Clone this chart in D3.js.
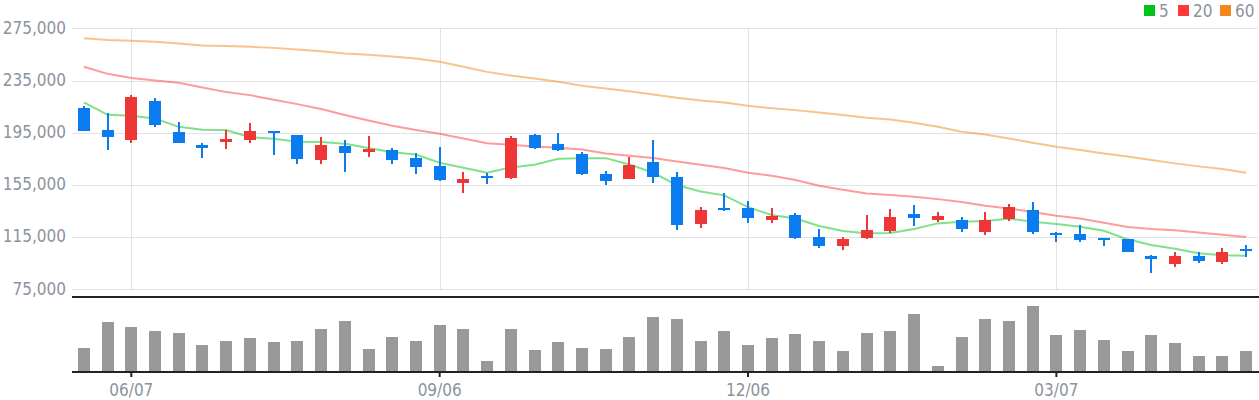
<!DOCTYPE html>
<html>
<head>
<meta charset="utf-8">
<script src="https://cdn.jsdelivr.net/npm/d3@7/dist/d3.min.js"></script>
<style>
  html, body { margin: 0; padding: 0; background: #fff; }
  svg { display: block; font-family: "DejaVu Sans Condensed", "DejaVu Sans", Verdana, sans-serif; }
</style>
</head>
<body>
<svg id="chart" width="1259" height="400"></svg>
<script>
// ---- data ----
const dates = ["05/24","05/31","06/07","06/14","06/21","06/28","07/05","07/12","07/19","07/26",
  "08/02","08/09","08/16","08/23","08/30","09/06","09/13","09/20","09/27","10/04",
  "10/11","10/18","10/25","11/01","11/08","11/15","11/22","11/29","12/06","12/13",
  "12/20","12/27","01/03","01/10","01/17","01/24","01/31","02/07","02/14","02/21",
  "02/28","03/07","03/14","03/21","03/28","04/04","04/11","04/18","04/25","05/02"];
const openP  = [213800,197000,189600,219200,195400,185500,188000,189600,196200,193100,
  174300,184700,180400,181700,175500,169400,156700,161800,160500,193100,
  186300,178600,163300,159700,172500,161000,125300,137300,137300,128300,
  131900,115100,108400,114500,119900,132700,128300,128100,119100,129100,
  135700,118400,117600,114500,113500,100500,94600,100500,96200,105900];
const highP  = [215400,210000,223800,221500,203100,187000,197000,202300,196200,193100,
  191600,189300,192400,183200,179400,184000,164800,164300,192400,193900,
  194700,180100,165600,176300,189300,164800,138000,148700,142600,137300,
  133400,121200,115100,131900,136500,139600,134200,130400,134200,140300,
  141900,119100,124200,114500,113500,101300,103600,103600,106600,108900];
const lowP   = [196500,181700,187300,199500,187300,175800,182700,187300,177800,171200,
  171200,165100,176600,171200,163500,158200,149000,155900,159700,182700,
  180900,162800,155100,159700,156700,120700,122200,135000,126000,126000,
  113800,106900,105400,113800,118400,123700,126800,119100,116800,127600,
  117600,111500,111500,108400,103800,87800,92300,95400,94600,100000];
const closeP = [196500,191600,222200,201100,187300,183500,190100,196200,194900,175000,
  185500,179600,182400,174300,168900,159000,159500,160500,190900,183500,
  181700,163500,158200,170200,161200,124500,135700,135700,129900,131400,
  114500,108400,113500,120400,130400,129900,131100,121400,128100,138000,
  119100,116800,113000,113000,103800,98500,100500,96900,103600,104300];
const ma5  = [218200,208700,207900,205900,199500,197200,197000,191600,190300,188000,
  187800,186500,183200,180100,178300,172000,168100,164300,168400,170400,
  175000,175500,175500,170700,164300,154900,150000,147000,138000,131900,
  129300,123500,119700,117900,118100,121200,125500,126800,127300,129100,
  126800,125000,123000,119900,113300,108900,106100,102600,101000,100800];
const ma20 = [245500,240100,237000,235000,233200,229600,226100,223800,220200,216900,
  213100,208500,204400,200300,197000,194200,190600,187000,185700,184500,
  183500,182200,179100,177300,175700,173000,170400,167900,164300,162000,
  158700,154400,151300,148500,147200,145900,144100,141900,139000,137000,
  134200,131400,129300,126000,122700,121200,120200,118600,116800,115100];
const ma60 = [267400,266100,265400,264600,263300,261800,261500,260800,260000,258700,
  257500,255700,254700,253400,251800,249300,245500,241600,238800,236500,
  234000,230900,228900,226800,224300,221700,219700,218200,215600,213800,
  212300,210500,208500,206400,205100,202600,199500,195700,193700,190600,
  187300,184200,181700,179100,176800,174000,171500,169200,167100,164300];
const volume = [70,148,133,121,115,79,91,100,88,91,
  127,151,67,103,91,139,127,31,127,64,
  88,70,67,103,163,157,91,121,79,100,
  112,91,61,115,121,172,16,103,157,151,
  196,109,124,94,61,109,85,46,46,61];
const yTicks = [75000,115000,155000,195000,235000,275000];
const xTickLabels = ["06/07","09/06","12/06","03/07"];
const maNames = ["5","20","60"];
const maColors = ["#00c317","#ff3838","#f4871a"];

// ---- layout ----
const svg = d3.select("#chart");
const FONT = "'DejaVu Sans Condensed', 'DejaVu Sans', Verdana, sans-serif";
const left = 72, right = 1258;
const priceTop = 28.3, priceBottom = 289.3;
const volTop = 297, volBottom = 372;
const upColor = "#ef3636", downColor = "#0b7cf0";
const textColor = "#8b939e";

const idx = d3.range(dates.length);
const x = d3.scaleBand().domain(idx).range([left, right]).padding(0);
const cx = i => x(i) + x.bandwidth() / 2;
const y = d3.scaleLinear().domain([75000, 275000]).range([priceBottom, priceTop]);
const yv = d3.scaleLinear().domain([0, 223]).range([volBottom - 1, volTop]);

// grid lines
const grid = svg.append("g");
grid.selectAll("line.h").data(yTicks).join("line")
  .attr("x1", left).attr("x2", right)
  .attr("y1", d => Math.round(y(d)) + 0.5).attr("y2", d => Math.round(y(d)) + 0.5)
  .attr("stroke", "#e1e2e6").attr("stroke-width", 1);
const tickIdx = xTickLabels.map(l => dates.indexOf(l));
grid.selectAll("line.v").data(tickIdx).join("line")
  .attr("x1", d => Math.round(cx(d)) + 0.5).attr("x2", d => Math.round(cx(d)) + 0.5)
  .attr("y1", priceTop).attr("y2", priceBottom)
  .attr("stroke", "#e1e2e6").attr("stroke-width", 1);

// y axis labels
const yAxis = d3.axisLeft(y).tickValues(yTicks).tickFormat(d3.format(",")).tickSize(0).tickPadding(6);
const gy = svg.append("g").attr("transform", `translate(${left},0)`).call(yAxis);
gy.select(".domain").remove();
gy.selectAll("text").attr("fill", textColor).attr("dy", 0).attr("y", 4.7)
  .style("font-size", "17px").style("font-family", FONT);

// MA lines
const maData = [ma5, ma20, ma60];
const line = d3.line().x((d, i) => cx(i)).y(d => y(d));
maData.forEach((arr, k) => {
  svg.append("path").datum(arr)
    .attr("d", line).attr("fill", "none")
    .attr("stroke", maColors[k]).attr("stroke-opacity", 0.5).attr("stroke-width", 2);
});

// candles
const candles = svg.append("g");
const bw = 12;
idx.forEach(i => {
  const o = openP[i], c = closeP[i], h = highP[i], l = lowP[i];
  const col = c >= o ? upColor : downColor;
  const xc = Math.round(cx(i));
  candles.append("rect")
    .attr("x", xc - 1).attr("width", 2)
    .attr("y", y(h)).attr("height", Math.max(1, y(l) - y(h)))
    .attr("fill", col).attr("shape-rendering", "crispEdges");
  const top = y(Math.max(o, c)), bot = y(Math.min(o, c));
  candles.append("rect")
    .attr("x", xc - bw / 2).attr("width", bw)
    .attr("y", top).attr("height", Math.max(2, bot - top))
    .attr("fill", col).attr("shape-rendering", "crispEdges");
});

// separator line
svg.append("line").attr("x1", left).attr("x2", right + 1)
  .attr("y1", volTop).attr("y2", volTop)
  .attr("stroke", "#222").attr("stroke-width", 2);

// volume bars
svg.append("g").selectAll("rect").data(volume).join("rect")
  .attr("x", (d, i) => Math.round(cx(i)) - 6).attr("width", 12)
  .attr("y", d => yv(d)).attr("height", d => volBottom - yv(d))
  .attr("fill", "#999999").attr("shape-rendering", "crispEdges");

// x axis
const xAxis = d3.axisBottom(x).tickValues(tickIdx).tickFormat(i => dates[i]).tickSize(5).tickPadding(6);
const gx = svg.append("g").attr("transform", `translate(0,${volBottom})`).call(xAxis);
gx.select(".domain").attr("stroke", "#222").attr("stroke-width", 2)
  .attr("d", `M${left},0H${right + 1}`);
gx.selectAll(".tick line").attr("stroke", "#222").attr("stroke-width", 2);
gx.selectAll("text").attr("fill", textColor).attr("dy", 0).attr("y", 24)
  .style("font-size", "17px").style("font-family", FONT);

// legend
const legendX = [1144, 1178, 1220];
const lg = svg.append("g");
maNames.forEach((n, k) => {
  lg.append("rect").attr("x", legendX[k]).attr("y", 5).attr("width", 11).attr("height", 11)
    .attr("fill", maColors[k]);
  lg.append("text").attr("x", legendX[k] + 15).attr("y", 17).text(n)
    .attr("fill", textColor).style("font-size", "17px").style("font-family", FONT);
});
</script>
</body>
</html>
